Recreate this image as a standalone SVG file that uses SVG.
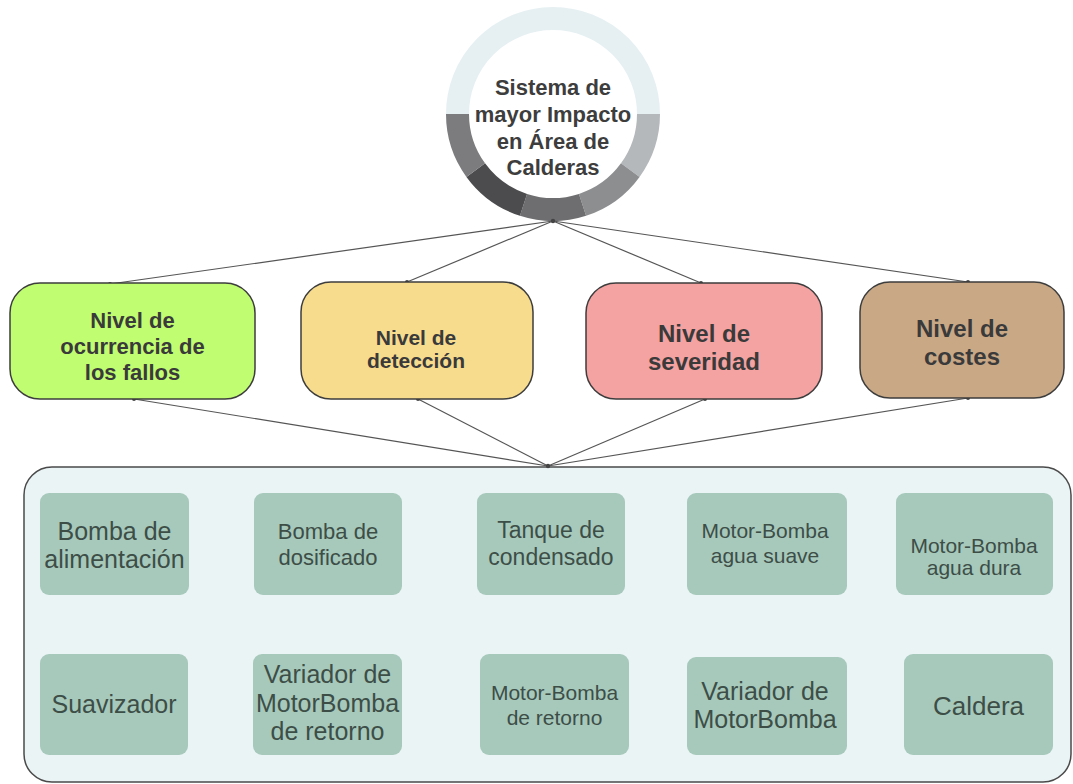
<svg xmlns="http://www.w3.org/2000/svg" width="1073" height="784" viewBox="0 0 1073 784">
  <style>
    .lvl { stroke: #3d3d3d; stroke-width: 1.5; }
    .lvl-t { font-family: "Liberation Sans", Arial, sans-serif; font-weight: bold; fill: #3a3a3a; text-anchor: middle; }
    .item { fill: #a7c9bc; }
    .item-t { font-family: "Liberation Sans", Arial, sans-serif; fill: #3d4e47; text-anchor: middle; }
    .hub-t { font-family: "Liberation Sans", Arial, sans-serif; font-weight: bold; font-size: 22px; fill: #3d3d3d; text-anchor: middle; }
    .conn line { stroke: #555; stroke-width: 1.2; }
    .conn circle { fill: #444; }
    .ring { fill: none; stroke-width: 23; }
  </style>

  <rect width="1073" height="784" fill="#ffffff"/>

  <!-- central hub: segmented ring with title -->
  <g id="hub">
    <circle cx="553" cy="114" r="84" fill="#ffffff"/>
    <path class="ring" stroke="#e6f0f2" d="M457.5,114 A95.5,95.5 0 0 1 648.5,114"/>
    <path class="ring" stroke="#b4b8ba" d="M648.5,114 A95.5,95.5 0 0 1 630.26,170.13"/>
    <path class="ring" stroke="#8d8e90" d="M630.26,170.13 A95.5,95.5 0 0 1 582.51,204.83"/>
    <path class="ring" stroke="#6e6e70" d="M582.51,204.83 A95.5,95.5 0 0 1 523.49,204.83"/>
    <path class="ring" stroke="#4c4c4e" d="M523.49,204.83 A95.5,95.5 0 0 1 475.74,170.13"/>
    <path class="ring" stroke="#7c7c7e" d="M475.74,170.13 A95.5,95.5 0 0 1 457.5,114"/>
    <text class="hub-t" x="553" y="95">Sistema de</text>
    <text class="hub-t" x="553" y="122">mayor Impacto</text>
    <text class="hub-t" x="553" y="149">en Área de</text>
    <text class="hub-t" x="553" y="175">Calderas</text>
  </g>

  <!-- container for the equipment list -->
  <g id="equipos">
    <rect x="24" y="467" width="1047" height="315" rx="28" fill="#ebf4f5" stroke="#4a4a4a" stroke-width="1.5"/>
  </g>

  <!-- connectors -->
  <g class="conn" id="connectors">
    <line x1="553" y1="221" x2="110" y2="284"/>
    <line x1="553" y1="221" x2="407" y2="282"/>
    <line x1="553" y1="221" x2="701" y2="283"/>
    <line x1="553" y1="221" x2="968" y2="282"/>
    <line x1="134" y1="399" x2="548" y2="466"/>
    <line x1="418" y1="399" x2="548" y2="466"/>
    <line x1="705" y1="399" x2="548" y2="466"/>
    <line x1="968" y1="398" x2="548" y2="466"/>
    <circle cx="553" cy="221" r="2.2"/>
    <circle cx="548" cy="466" r="2.2"/>
    <circle cx="110" cy="284" r="2"/>
    <circle cx="407" cy="282" r="2"/>
    <circle cx="701" cy="283" r="2"/>
    <circle cx="968" cy="282" r="2"/>
    <circle cx="134" cy="399" r="2"/>
    <circle cx="418" cy="399" r="2"/>
    <circle cx="705" cy="399" r="2"/>
    <circle cx="968" cy="398" r="2"/>
  </g>

  <!-- evaluation criteria -->
  <g id="ocurrencia">
    <rect class="lvl" x="10" y="283" width="245" height="116" rx="30" fill="#c1fd70"/>
    <text class="lvl-t" font-size="22" x="132.5" y="328">Nivel de</text>
    <text class="lvl-t" font-size="22" x="132.5" y="354">ocurrencia de</text>
    <text class="lvl-t" font-size="22" x="132.5" y="380">los fallos</text>
  </g>
  <g id="deteccion">
    <rect class="lvl" x="301" y="282" width="232" height="117" rx="30" fill="#f8dc8e"/>
    <text class="lvl-t" font-size="21" x="416" y="345">Nivel de</text>
    <text class="lvl-t" font-size="21" x="416" y="368">detección</text>
  </g>
  <g id="severidad">
    <rect class="lvl" x="586" y="283" width="236" height="116" rx="30" fill="#f5a2a2"/>
    <text class="lvl-t" font-size="24" x="704" y="342">Nivel de</text>
    <text class="lvl-t" font-size="24" x="704" y="370">severidad</text>
  </g>
  <g id="costes">
    <rect class="lvl" x="860" y="282" width="204" height="116" rx="30" fill="#c9a886"/>
    <text class="lvl-t" font-size="24" x="962" y="337">Nivel de</text>
    <text class="lvl-t" font-size="24" x="962" y="365">costes</text>
  </g>

  <!-- equipment, first row -->
  <g id="bomba-alimentacion">
    <rect class="item" x="40" y="493" width="149" height="102" rx="9"/>
    <text class="item-t" font-size="25" x="114.5" y="540">Bomba de</text>
    <text class="item-t" font-size="25" x="114.5" y="568">alimentación</text>
  </g>
  <g id="bomba-dosificado">
    <rect class="item" x="254" y="493" width="148" height="102" rx="9"/>
    <text class="item-t" font-size="22" x="328" y="539">Bomba de</text>
    <text class="item-t" font-size="22" x="328" y="565">dosificado</text>
  </g>
  <g id="tanque-condensado">
    <rect class="item" x="477" y="493" width="148" height="102" rx="9"/>
    <text class="item-t" font-size="23" x="551" y="538">Tanque de</text>
    <text class="item-t" font-size="23" x="551" y="565">condensado</text>
  </g>
  <g id="motobomba-suave">
    <rect class="item" x="687" y="493" width="160" height="102" rx="9"/>
    <text class="item-t" font-size="21" x="765" y="538">Motor-Bomba</text>
    <text class="item-t" font-size="21" x="765" y="563">agua suave</text>
  </g>
  <g id="motobomba-dura">
    <rect class="item" x="896" y="493" width="157" height="102" rx="9"/>
    <text class="item-t" font-size="21" x="974" y="553">Motor-Bomba</text>
    <text class="item-t" font-size="21" x="974" y="575">agua dura</text>
  </g>

  <!-- equipment, second row -->
  <g id="suavizador">
    <rect class="item" x="40" y="654" width="148" height="101" rx="9"/>
    <text class="item-t" font-size="25" x="114" y="713">Suavizador</text>
  </g>
  <g id="variador-retorno">
    <rect class="item" x="253" y="654" width="149" height="101" rx="9"/>
    <text class="item-t" font-size="25" x="327.5" y="683">Variador de</text>
    <text class="item-t" font-size="25" x="327.5" y="712">MotorBomba</text>
    <text class="item-t" font-size="25" x="327.5" y="740">de retorno</text>
  </g>
  <g id="motobomba-retorno">
    <rect class="item" x="480" y="654" width="149" height="101" rx="9"/>
    <text class="item-t" font-size="21" x="554.5" y="700">Motor-Bomba</text>
    <text class="item-t" font-size="21" x="554.5" y="725">de retorno</text>
  </g>
  <g id="variador">
    <rect class="item" x="687" y="657" width="160" height="98" rx="9"/>
    <text class="item-t" font-size="25" x="765" y="700">Variador de</text>
    <text class="item-t" font-size="25" x="765" y="728">MotorBomba</text>
  </g>
  <g id="caldera">
    <rect class="item" x="904" y="654" width="149" height="101" rx="9"/>
    <text class="item-t" font-size="26" x="978.5" y="715">Caldera</text>
  </g>
</svg>
